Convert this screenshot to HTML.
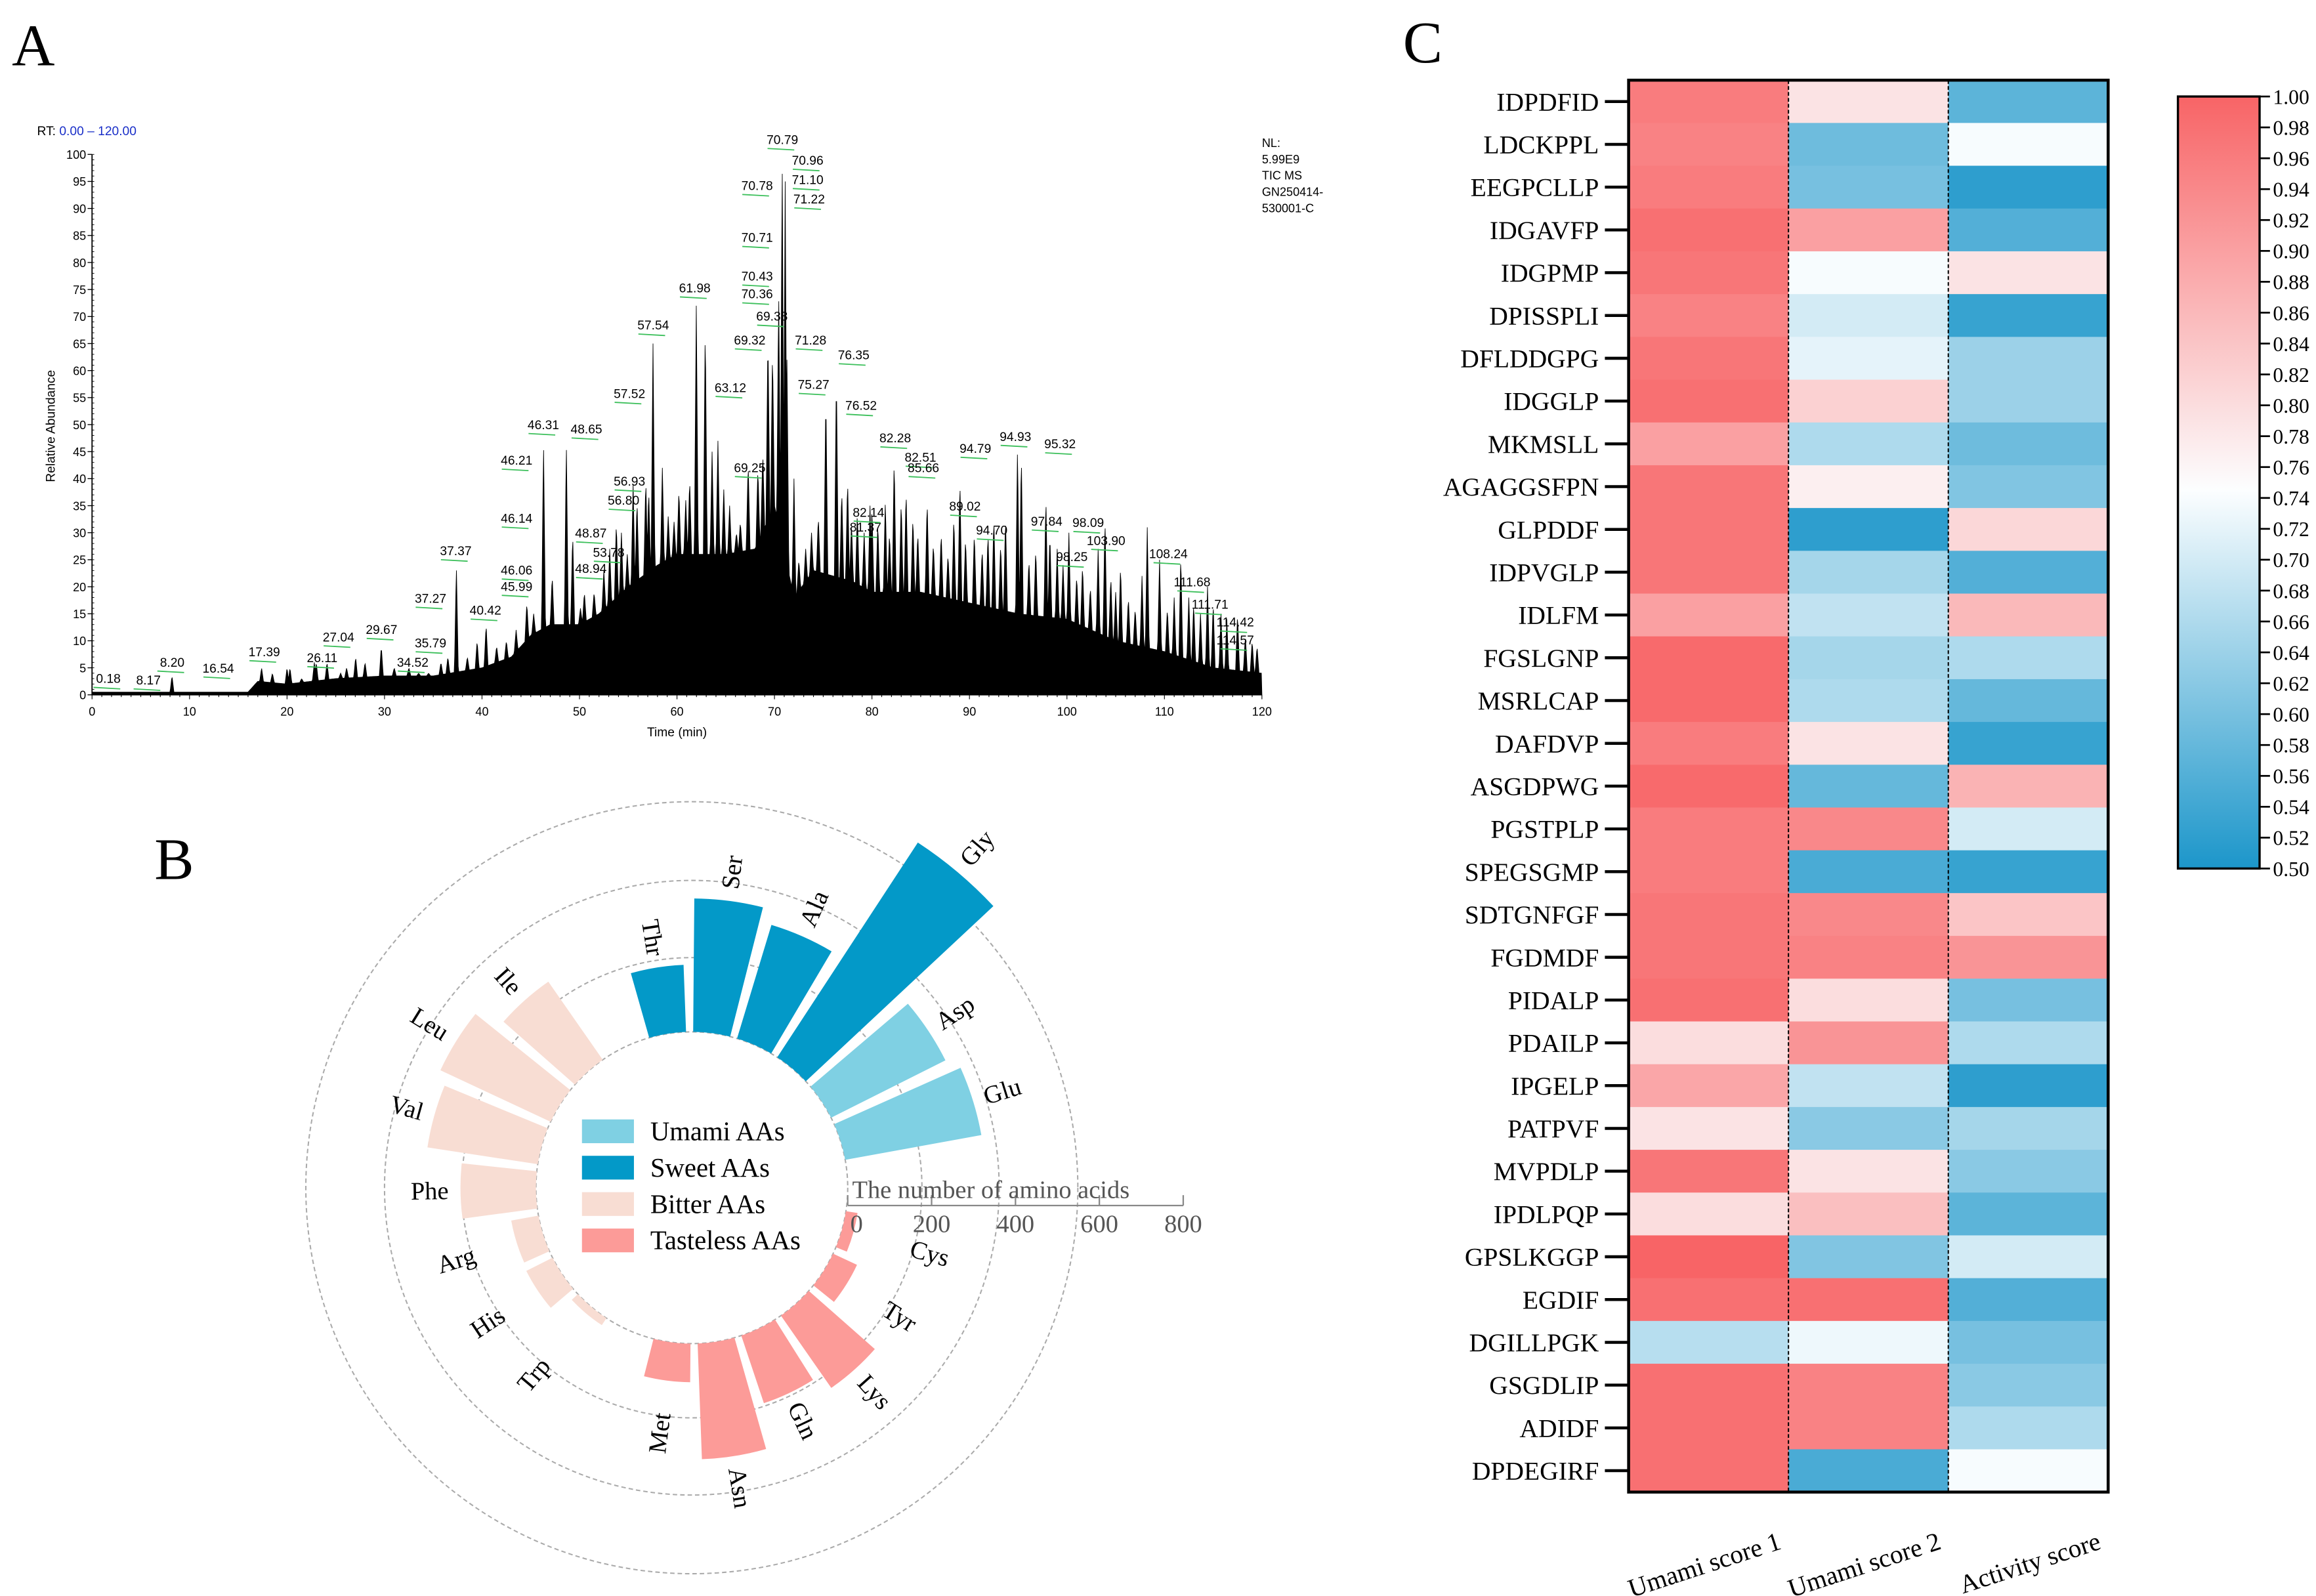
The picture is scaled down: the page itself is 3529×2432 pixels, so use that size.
<!DOCTYPE html>
<html><head><meta charset="utf-8"><style>
html,body{margin:0;padding:0;background:#fff;}
svg{display:block;}
.serif{font-family:"Liberation Serif",serif;}
.sans{font-family:"Liberation Sans",sans-serif;}
</style></head><body>
<svg id="fig" width="3529" height="2432" viewBox="0 0 1560 1075" preserveAspectRatio="none" xmlns="http://www.w3.org/2000/svg">
<rect width="1560" height="1075" fill="#fff"/>
<text x="8" y="44" class="serif" font-size="40">A</text>
<text x="104" y="592" class="serif" font-size="40">B</text>
<text x="945" y="42" class="serif" font-size="40">C</text>
<g id="pa"></g>
<g id="pb"></g>
<g id="pc"></g>
</svg>
<script>
const NS="http://www.w3.org/2000/svg";
function mk(parent,tag,attrs,text){const e=document.createElementNS(NS,tag);for(const k in attrs)e.setAttribute(k,attrs[k]);if(text!==undefined)e.textContent=text;parent.appendChild(e);return e;}

/* ---------- Panel A data ---------- */
const envTimes=[0,16,17,20,25,30,35,40,43,45,47,50,52,55,58,60,65,68,70,72,74,78,80,85,90,95,100,105,110,115,120];
const envValues=[0.5,0.5,2.5,2,3,3.5,3.5,5,7,11,13,13,15,20,24,26,26,27,35,18,23,21,19,19,17,15,14,10,8,5,4];
const peakTimes=[8.2,16.54,17.39,20,23,26.11,27.04,29.67,34.52,35.79,37.37,40.42,44.6,46.31,48.65,50.5,53.78,55.5,56.8,57.54,58.5,60.2,61.98,62.9,64.2,66.5,67.3,68.3,69.33,69.8,70.43,70.79,71.1,71.28,72,75.27,76.35,77.5,78.5,80,81.37,82.28,83.5,85.66,89.02,90.5,92.5,94.93,95.32,97.84,98.25,100.2,103.9,105.5,108.24,109.5,111.68,112.5,114.42,115,117.5,119];
const peakHeights=[3.5,1,5,5,6,5,7,9,4,6,24,13,17,47,47,19,32,39,40,65,42,38,72,69,47,32,43,42,67,64,75,100,95,62,40,56,60,40,34,35,36,44,38,36,40,30,33,46,45,37,30,30,33,24,31,25,26,18,20,17,15,10];
const minorTimes=[18.5,20.3,21.5,22.8,24.1,25.5,28,31,32.5,33.5,36.5,38.5,39.5,41.5,42.5,43.5,45.3,47.2,49.3,50.1,51.5,52.5,53.1,54.3,54.9,55.9,57.1,59.1,59.7,60.9,61.3,63.6,64.8,65.4,66.1,68.8,72.5,73.2,73.8,74.5,76.9,77.9,79.2,79.8,80.6,81.8,83.0,84.2,84.7,86.3,87.1,87.8,88.4,89.6,91.3,91.9,93.2,93.7,96.1,96.8,99.0,99.6,101.0,101.6,102.4,103.2,104.5,105.0,106.3,107.0,107.7,110.3,111.0,113.0,113.7,115.8,116.4,118.3,119.5];
const minorHeights=[4,5,3,6,6,4,6,5,5,4,7,7,10,9,10,12,15,22,30,16,19,23,27,30,26,36,38,33,32,36,40,45,38,35,30,45,25,27,30,33,38,32,30,35,32,30,36,33,30,28,30,26,33,29,27,30,28,33,25,27,27,24,22,24,20,27,22,19,18,16,22,16,18,17,15,15,14,11,9];
const xTicks=[0,10,20,30,40,50,60,70,80,90,100,110,120];
const annotTexts=["0.18","8.17","8.20","16.54","17.39","26.11","27.04","29.67","34.52","35.79","37.27","37.37","40.42","45.99","46.06","46.14","46.21","46.31","48.65","48.87","48.94","53.78","56.80","56.93","57.52","57.54","61.98","63.12","69.25","69.32","69.33","70.36","70.43","70.71","70.78","70.79","70.96","71.10","71.22","71.28","75.27","76.35","76.52","81.37","82.14","82.28","82.51","85.66","89.02","94.70","94.79","94.93","95.32","97.84","98.09","98.25","103.90","108.24","111.68","111.71","114.42","114.57"];
const annotPos=[[73,460],[100,461],[116,449],[147,453],[178,442],[217,446],[228,432],[257,427],[278,449],[290,436],[290,406],[307,374],[327,414],[348,398],[348,387],[348,352],[348,313],[366,289],[395,292],[398,362],[398,386],[410,375],[420,340],[424,327],[424,268],[440,222],[468,197],[492,264],[505,318],[505,232],[520,216],[510,201],[510,189],[510,163],[510,128],[527,97],[544,111],[544,124],[545,137],[546,232],[548,262],[575,242],[580,276],[583,358],[585,348],[603,298],[620,311],[622,318],[650,344],[668,360],[657,305],[684,297],[714,302],[705,354],[733,355],[722,378],[745,367],[787,376],[803,395],[815,410],[832,422],[832,434]];

(function(){
const g=document.getElementById('pa');
const X0=62,X1=850,Y0=468,Y1=104;
const xs=t=>X0+(t/120)*(X1-X0), ys=v=>Y0-(v/100)*(Y0-Y1);
function env(t){for(let i=0;i<envTimes.length-1;i++){if(t>=envTimes[i]&&t<=envTimes[i+1]){const f=(t-envTimes[i])/(envTimes[i+1]-envTimes[i]);return envValues[i]+f*(envValues[i+1]-envValues[i]);}}return 0;}
const allT=peakTimes.concat(minorTimes), allH=peakHeights.concat(minorHeights);
let d="M"+xs(0)+","+ys(0);
for(let t=0;t<=120.001;t+=0.06){
  let v=env(t);
  for(let i=0;i<allT.length;i++){const w=0.2;const k=1-Math.abs(t-allT[i])/w;if(k>0)v=Math.max(v,env(t)+(allH[i]-env(t))*k);}
  d+=" L"+xs(t).toFixed(2)+","+ys(v).toFixed(2);
}
d+=" L"+xs(120)+","+ys(0)+" Z";
const tr=mk(g,'path',{d:d,fill:'#000',stroke:'#000','stroke-width':0.4});


const ax=mk(g,'path',{d:`M${X0},${Y1} L${X0},${Y0} L${X1},${Y0}`,fill:'none',stroke:'#000','stroke-width':0.8});


for(let v=0;v<=100;v+=5){
  mk(g,'line',{x1:X0-3,x2:X0,y1:ys(v),y2:ys(v),stroke:'#000','stroke-width':0.6});
  const t=mk(g,'text',{x:X0-4,y:ys(v)+3,'font-size':8,'text-anchor':'end',class:'sans'},String(v));
  
  
}
for(let v=0;v<=100;v+=1)mk(g,'line',{x1:X0,x2:X0+1.5,y1:ys(v),y2:ys(v),stroke:'#000','stroke-width':0.4});
for(let tt=0;tt<=120;tt+=1)mk(g,'line',{x1:xs(tt),x2:xs(tt),y1:Y0,y2:Y0+(tt%10===0?3:1.5),stroke:'#000','stroke-width':0.5});
xTicks.forEach(v=>{const t=mk(g,'text',{x:xs(v),y:Y0+14,'font-size':8,'text-anchor':'middle',class:'sans'},String(v));
  
  });
annotTexts.forEach((s,i)=>{const p=annotPos[i];
  const t=mk(g,'text',{x:p[0],y:p[1],'font-size':8.5,'text-anchor':'middle',class:'sans'},s);
  
  
  mk(g,'line',{x1:p[0]-10,x2:p[0]+8,y1:p[1]+3,y2:p[1]+4,stroke:'#3bbf5a','stroke-width':0.8});
});
let t=mk(g,'text',{x:456,y:496,'font-size':8.5,'text-anchor':'middle',class:'sans'},'Time (min)');


t=mk(g,'text',{x:37,y:287,'font-size':8.5,'text-anchor':'middle',class:'sans',transform:'rotate(-90 37 287)'},'Relative Abundance');


t=mk(g,'text',{x:25,y:91,'font-size':8.5,class:'sans'});


mk(t,'tspan',{},'RT: ');mk(t,'tspan',{fill:'#1a2fc8'},'0.00 – 120.00');
['NL:','5.99E9','TIC  MS','GN250414-','530001-C'].forEach((s,i)=>{const e=mk(g,'text',{x:850,y:99+i*11,'font-size':8,class:'sans'},s);
  
  });
})();

/* ---------- Panel B data ---------- */
const aaNames=["Thr","Ser","Ala","Gly","Asp","Glu","","Cys","Tyr","Lys","Gln","Asn","Met","","Trp","His","Arg","Phe","Val","Leu","Ile",""];
const aaCounts=[160,318,283,612,305,330,0,28,63,210,170,276,92,0,20,70,66,180,266,290,227,0];
const aaGroup=["Sweet","Sweet","Sweet","Sweet","Umami","Umami","","Tasteless","Tasteless","Tasteless","Tasteless","Tasteless","Tasteless","","Bitter","Bitter","Bitter","Bitter","Bitter","Bitter","Bitter",""];
const groupNames=["Umami AAs","Sweet AAs","Bitter AAs","Tasteless AAs"];
const groupKeys=["Umami","Sweet","Bitter","Tasteless"];
const axisTicks=[0,200,400,600,800];
(function(){
const g=document.getElementById('pb');
const CX=466,CY=800,R0=105,K=0.2825;
const col={Umami:'#7fd0e3',Sweet:'#0399c8',Bitter:'#f8ddd3',Tasteless:'#fc9b98'};
const step=360/aaNames.length, start=-9;
const rad=a=>(a-90)*Math.PI/180;
const pt=(a,r)=>[CX+r*Math.cos(rad(a)),CY+r*Math.sin(rad(a))];
[260,207,155,R0].forEach(r=>{const c=mk(g,'circle',{cx:CX,cy:CY,r:r,fill:'none',stroke:'#aaa','stroke-width':0.9,'stroke-dasharray':'3 2'});
  
  });
aaNames.forEach((n,i)=>{
  if(!n)return;
  const a=start+i*step, hw=step*0.42, r1=R0+aaCounts[i]*K;
  const p1=pt(a-hw,R0),p2=pt(a-hw,r1),p3=pt(a+hw,r1),p4=pt(a+hw,R0);
  const b=mk(g,'path',{d:`M${p1} L${p2} A${r1},${r1} 0 0 1 ${p3} L${p4} A${R0},${R0} 0 0 0 ${p1} Z`,fill:col[aaGroup[i]]});
  
  
  const lr=Math.max(r1,R0+40)+8; const lp=pt(a,lr);
  const right=(a%360+360)%360<180;
  const rot=right?a-90:a-270;
  const t=mk(g,'text',{x:lp[0],y:lp[1],'font-size':17,class:'serif','text-anchor':right?'start':'end','dominant-baseline':'central',transform:`rotate(${rot} ${lp[0]} ${lp[1]})`},n);
  
  
});
groupNames.forEach((s,i)=>{
  const y=754+i*24.5;
  const r=mk(g,'rect',{x:392,y:y,width:35,height:16,fill:col[groupKeys[i]]});
  
  
  const t=mk(g,'text',{x:438,y:y+14,'font-size':18,class:'serif'},s);
  
  
});
const ay=812;
const al=mk(g,'line',{x1:CX+R0,x2:CX+R0+800*K,y1:ay,y2:ay,stroke:'#888','stroke-width':1});


axisTicks.forEach(v=>{const x=CX+R0+v*K;
  mk(g,'line',{x1:x,x2:x,y1:ay-7,y2:ay,stroke:'#888','stroke-width':1});
  const t=mk(g,'text',{x:x+(v===0?6:0),y:ay+18,'font-size':17,class:'serif','text-anchor':'middle',fill:'#555'},String(v));
  
  });
const at=mk(g,'text',{x:CX+R0+3,y:ay-5,'font-size':17,class:'serif',fill:'#555'},'The number of amino acids');


})();

/* ---------- Panel C data ---------- */
const peptides=["IDPDFID","LDCKPPL","EEGPCLLP","IDGAVFP","IDGPMP","DPISSPLI","DFLDDGPG","IDGGLP","MKMSLL","AGAGGSFPN","GLPDDF","IDPVGLP","IDLFM","FGSLGNP","MSRLCAP","DAFDVP","ASGDPWG","PGSTPLP","SPEGSGMP","SDTGNFGF","FGDMDF","PIDALP","PDAILP","IPGELP","PATPVF","MVPDLP","IPDLPQP","GPSLKGGP","EGDIF","DGILLPGK","GSGDLIP","ADIDF","DPDEGIRF"];
const scoreNames=["Umami score 1","Umami score 2","Activity score"];
const umami1=[0.96,0.95,0.96,0.98,0.97,0.95,0.97,0.98,0.90,0.97,0.97,0.97,0.90,0.99,0.99,0.96,0.99,0.96,0.96,0.97,0.97,0.98,0.80,0.89,0.79,0.97,0.80,1.00,0.98,0.67,0.98,0.98,0.98];
const umami2=[0.79,0.59,0.60,0.90,0.74,0.70,0.72,0.82,0.66,0.77,0.52,0.65,0.68,0.65,0.66,0.79,0.58,0.94,0.55,0.94,0.95,0.80,0.92,0.68,0.62,0.79,0.85,0.61,0.98,0.73,0.95,0.95,0.55];
const activity=[0.57,0.74,0.52,0.56,0.79,0.53,0.64,0.64,0.59,0.61,0.81,0.56,0.86,0.66,0.58,0.53,0.87,0.70,0.53,0.84,0.92,0.60,0.66,0.52,0.65,0.62,0.57,0.70,0.56,0.60,0.62,0.66,0.74];
const cbTicks=[0.50,0.52,0.54,0.56,0.58,0.60,0.62,0.64,0.66,0.68,0.70,0.72,0.74,0.76,0.78,0.80,0.82,0.84,0.86,0.88,0.90,0.92,0.94,0.96,0.98,1.00];
(function(){
const g=document.getElementById('pc');
const L=1097,R=1420,T=54,B=1005;
const rh=(B-T)/peptides.length, cw=(R-L)/3;
const blue=[28,150,202],white=[252,254,255],red=[248,100,102];
function color(v){let a,b,f;if(v<=0.745){a=blue;b=white;f=(v-0.5)/0.245;}else{a=white;b=red;f=(v-0.745)/0.255;}f=Math.max(0,Math.min(1,f));
  return `rgb(${a.map((c,i)=>Math.round(c+(b[i]-c)*f)).join(',')})`;}
const cols=[umami1,umami2,activity];
cols.forEach((arr,j)=>arr.forEach((v,i)=>{
  const r=mk(g,'rect',{x:L+j*cw,y:T+i*rh,width:cw+0.5,height:rh+0.5,fill:color(v)});
  
  
}));
[1,2].forEach(j=>mk(g,'line',{x1:L+j*cw,x2:L+j*cw,y1:T,y2:B,stroke:'#000','stroke-width':0.9,'stroke-dasharray':'2.5 1.5'}));
const fr=mk(g,'rect',{x:L,y:T,width:R-L,height:B-T,fill:'none',stroke:'#000','stroke-width':2});


peptides.forEach((p,i)=>{const y=T+(i+0.5)*rh;
  mk(g,'line',{x1:L-16,x2:L,y1:y,y2:y,stroke:'#000','stroke-width':2});
  const t=mk(g,'text',{x:L-20,y:y+6,'font-size':17.5,class:'serif','text-anchor':'end'},p);
  
  });
scoreNames.forEach((s,j)=>{const x=L+(j+1)*cw-4,y=B+38;
  const t=mk(g,'text',{x:x,y:y,'font-size':17.5,class:'serif','text-anchor':'end',transform:`rotate(-18 ${x} ${y})`},s);
  
  });
const defs=mk(g,'defs',{});
const lg=mk(defs,'linearGradient',{id:'cbg',x1:0,y1:1,x2:0,y2:0});
[[0,'rgb(28,150,202)'],[0.49,'rgb(252,254,255)'],[1,'rgb(248,100,102)']].forEach(s=>mk(lg,'stop',{offset:s[0],'stop-color':s[1]}));
const CT=65,CB=585,CL=1467,CR=1522;
const cb=mk(g,'rect',{x:CL,y:CT,width:CR-CL,height:CB-CT,fill:'url(#cbg)',stroke:'#000','stroke-width':1.5});


cbTicks.forEach(v=>{const y=CB-(v-0.5)/0.5*(CB-CT);
  mk(g,'line',{x1:CR,x2:CR+7,y1:y,y2:y,stroke:'#000','stroke-width':1.2});
  const t=mk(g,'text',{x:CR+9,y:y+5,'font-size':14,class:'serif'},v.toFixed(2));
  
  });
})();
</script>
</body></html>
